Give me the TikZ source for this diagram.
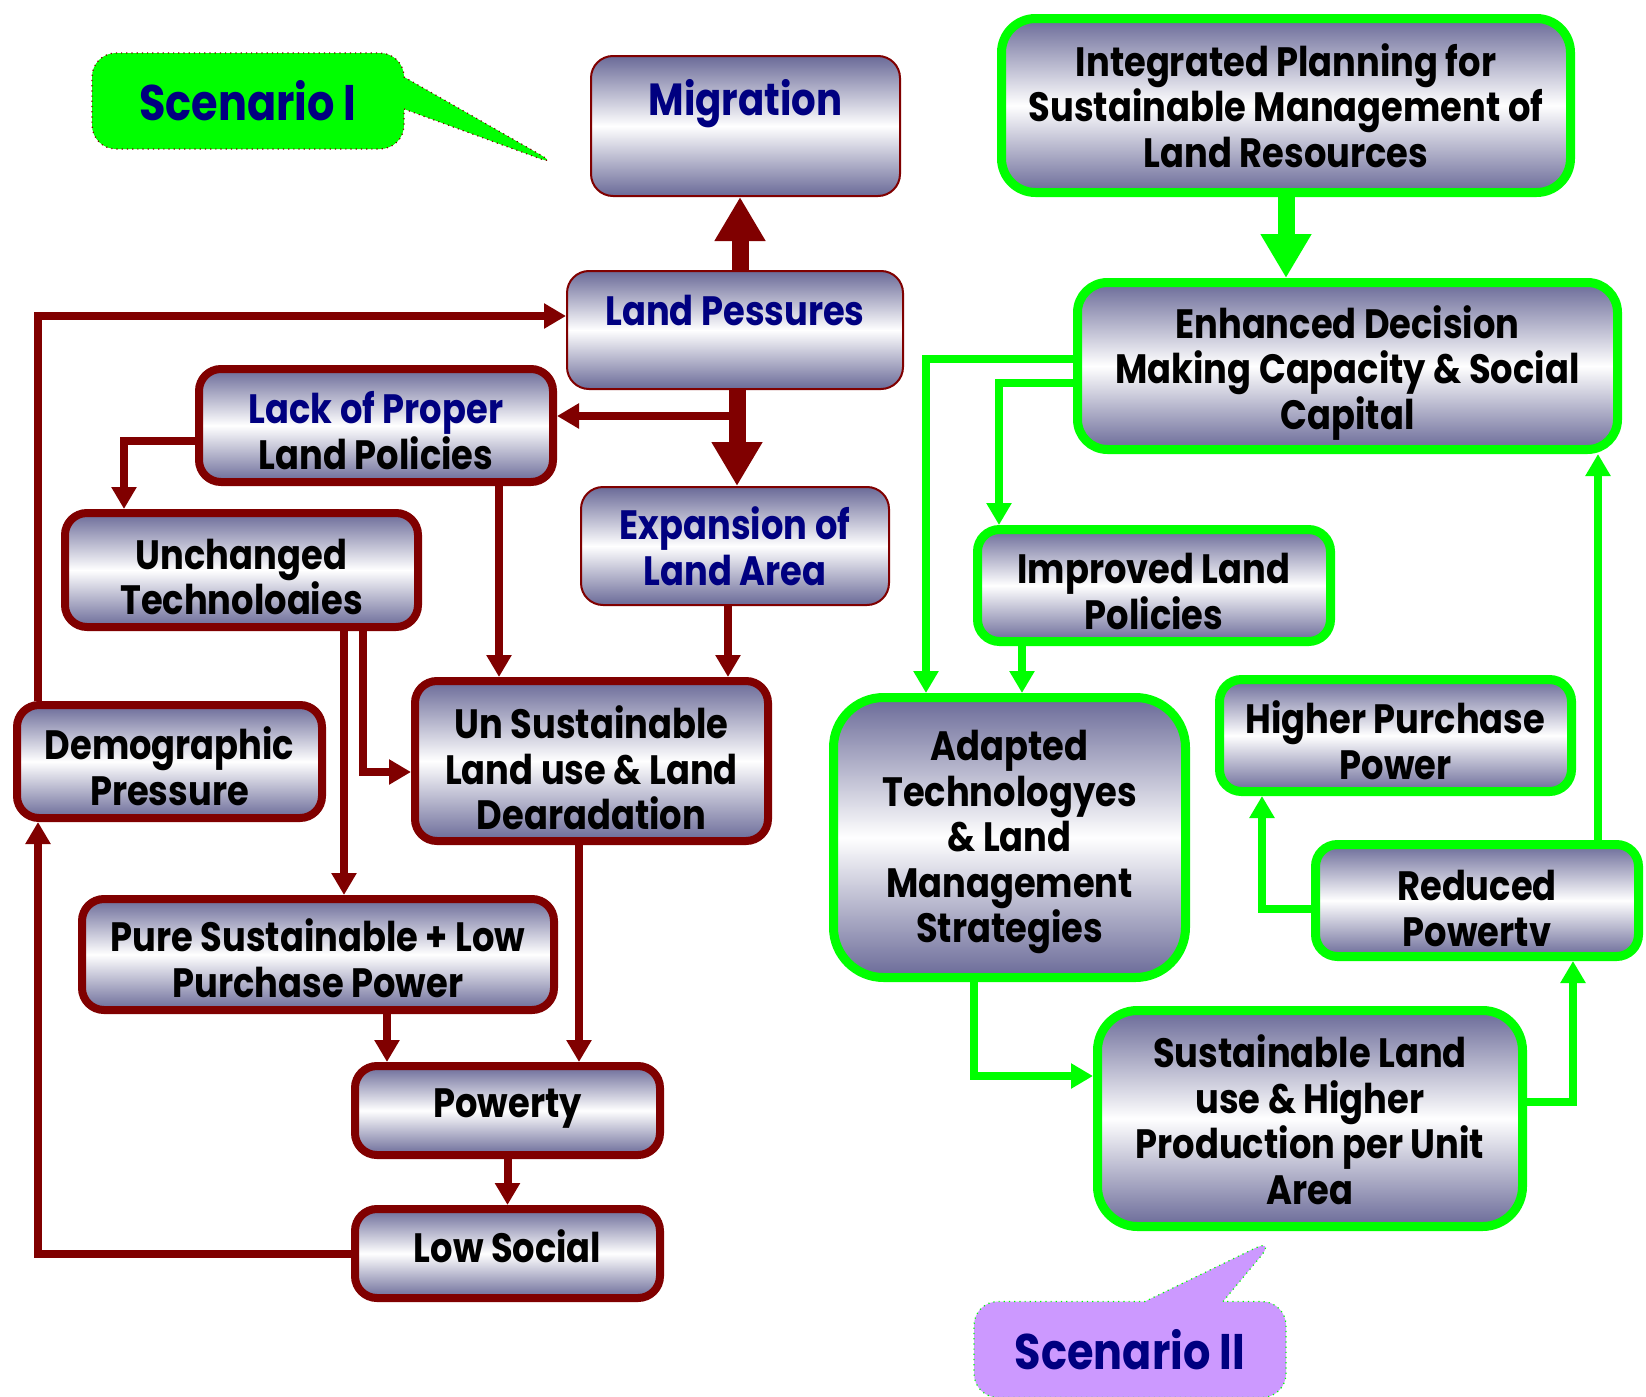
\documentclass[tikz,border=0pt]{standalone}
\usepackage{fontspec}
\setmainfont{Poppins}[FakeStretch=0.86]
\usepackage{tikz}
\usetikzlibrary{arrows.meta,positioning,calc,shapes.callouts}
\definecolor{wine}{RGB}{128,0,0}
\definecolor{leaf}{RGB}{0,255,0}
\definecolor{ink}{RGB}{0,0,128}
\definecolor{slate}{RGB}{106,106,152}
\definecolor{lilac}{RGB}{204,153,255}
\tikzset{
  >=Triangle,
  every picture/.append style={line width=0.6pt},
}
\tikzset{
  box/.style={rectangle, rounded corners=11pt, align=center, inner sep=2pt,
              top color=slate, bottom color=slate, middle color=white,
              font=\bfseries\fontsize{20.5}{22.8}\selectfont},
  oldbox/.style={box, draw=wine, line width=4pt},
  thinbox/.style={box, draw=wine, line width=1pt, text=ink},
  newbox/.style={box, draw=leaf, line width=4.5pt},
  sunk/.style={text height=#1}, sunk/.default=44pt,
  arrow/.style={-{Triangle[width=12pt,length=11pt]}, line width=4pt},
  bigarrow/.style={-{Triangle[width=24pt,length=22pt]}, line width=8.5pt}
}

\begin{document}
\begin{tikzpicture}[
  x=0.5pt, y=-0.5pt,
  bubble/.style={rectangle callout, rounded corners=12pt, dotted, line width=0.6pt,
                 minimum width=156pt, minimum height=48pt, text=ink,
                 font=\bfseries\fontsize{25}{28}\selectfont}
]
\useasboundingbox (0,0) rectangle (1646,1397);

% ============= Scenario I =============
\node[bubble, fill=leaf, draw=wine, callout pointer width=16pt,
      callout absolute pointer={(560,166)}] (scen1) at (248,101) {Scenario I};

\node[thinbox, minimum width=154.5pt, minimum height=70pt, text depth=29pt,
      font=\bfseries\fontsize{22.5}{24}\selectfont] (mig) at (745.5,126) {Migration};
\node[thinbox, minimum width=168pt, minimum height=59pt, text depth=20pt] (press) at (735,330) {Land Pessures};
\node[oldbox, sunk, minimum width=177pt, minimum height=56.5pt] (lack) at (376,425.5)
     {\textcolor{ink}{Lack of Proper}\\Land Policies};
\node[thinbox, minimum width=154pt, minimum height=59pt] (expand) at (735,546) {Expansion of\\Land Area};
\node[oldbox, sunk=45pt, minimum width=176.5pt, minimum height=57pt] (unch) at (241.5,570) {Unchanged\\Technoloaies};
\node[oldbox, sunk, minimum width=152.5pt, minimum height=56.5pt] (demo) at (169.5,761.5) {Demographic\\Pressure};
\node[oldbox, sunk=69pt, minimum width=176.5pt, minimum height=80pt] (unsus) at (591.5,761)
     {Un Sustainable\\Land use \& Land\\Dearadation};
\node[oldbox, sunk=43pt, minimum width=236pt, minimum height=55.5pt] (pure) at (318,954.5)
     {Pure Sustainable + Low\\Purchase Power};
\node[oldbox, text depth=7pt, minimum width=152.5pt, minimum height=44.5pt] (pov) at (507.5,1110.5) {Powerty};
\node[oldbox, text depth=7pt, minimum width=152.5pt, minimum height=44.5pt] (low) at (507.5,1253.5) {Low Social};

\draw[bigarrow, wine] (press.north -| 740,0) -- (mig.south -| 740,0);
\draw[bigarrow, wine] (press.south -| 737,0) -- (expand.north -| 737,0);
\coordinate (split) at (737,416);
\draw[arrow, wine] (split) -- (lack.east |- split);
\draw[arrow, wine] (demo.north -| 38,0) |- (press.west |- 0,316);
\draw[arrow, wine] (lack.west |- 0,441) -| (unch.north -| 124,0);
\draw[arrow, wine] (lack.south -| 499,0) -- (unsus.north -| 499,0);
\draw[arrow, wine] (expand.south -| 728,0) -- (unsus.north -| 728,0);
\draw[arrow, wine] (unch.south -| 363,0) |- (unsus.west |- 0,772);
\draw[arrow, wine] (unch.south -| 344,0) -- (pure.north -| 344,0);
\draw[arrow, wine] (unsus.south -| 579,0) -- (pov.north -| 579,0);
\draw[arrow, wine] (pure.south -| 387,0) -- (pov.north -| 387,0);
\draw[arrow, wine] (pov.south) -- (low.north);
\draw[arrow, wine] (low.west) -| (demo.south -| 38,0);

% ============= Scenario II =============
\node[newbox, minimum width=284.5pt, minimum height=87pt, rounded corners=17pt] (integ) at (1286,105.5)
     {Integrated Planning for\\Sustainable Management of\\Land Resources};
\node[newbox, sunk=69pt, minimum width=270pt, minimum height=83.5pt, rounded corners=15pt] (enh) at (1347.5,366)
     {Enhanced Decision\\Making Capacity \& Social\\Capital};
\node[newbox, sunk, minimum width=176.5pt, minimum height=56pt] (impr) at (1154,585.5) {Improved Land\\Policies};
\node[newbox, sunk=111pt, minimum width=176pt, minimum height=140pt, rounded corners=25pt] (adapt) at (1009.5,837.5)
     {Adapted\\Technologyes\\\& Land\\Management\\Strategies};
\node[newbox, sunk, minimum width=176pt, minimum height=56pt] (higher) at (1395.5,735.5) {Higher Purchase\\Power};
\node[newbox, sunk=46pt, minimum width=161.5pt, minimum height=56pt] (reduc) at (1477,900.5) {Reduced\\Powertv};
\node[newbox, sunk=86pt, minimum width=212.5pt, minimum height=108pt, rounded corners=20pt] (sust) at (1310,1118.5)
     {Sustainable Land\\use \& Higher\\Production per Unit\\Area};

\node[bubble, fill=lilac, draw=leaf, callout pointer width=39pt,
      callout absolute pointer={(1276,1238)}] (scen2) at (1130,1349.5) {Scenario II};

\draw[bigarrow, leaf] (integ.south) -- (integ.south |- enh.north);
\draw[arrow, leaf] (enh.west |- 0,359) -| (adapt.north -| 926,0);
\draw[arrow, leaf] (enh.west |- 0,383) -| (impr.north -| 999,0);
\draw[arrow, leaf] (impr.south -| 1022,0) -- (adapt.north -| 1022,0);
\draw[arrow, leaf] (adapt.south -| 974,0) |- (sust.west |- 0,1076);
\draw[arrow, leaf] (sust.east |- 0,1102) -| (reduc.south -| 1573,0);
\draw[arrow, leaf] (reduc.west |- 0,909) -| (higher.south -| 1262,0);
\draw[arrow, leaf] (reduc.north -| 1598,0) -- (enh.south -| 1598,0);

\end{tikzpicture}
\end{document}
